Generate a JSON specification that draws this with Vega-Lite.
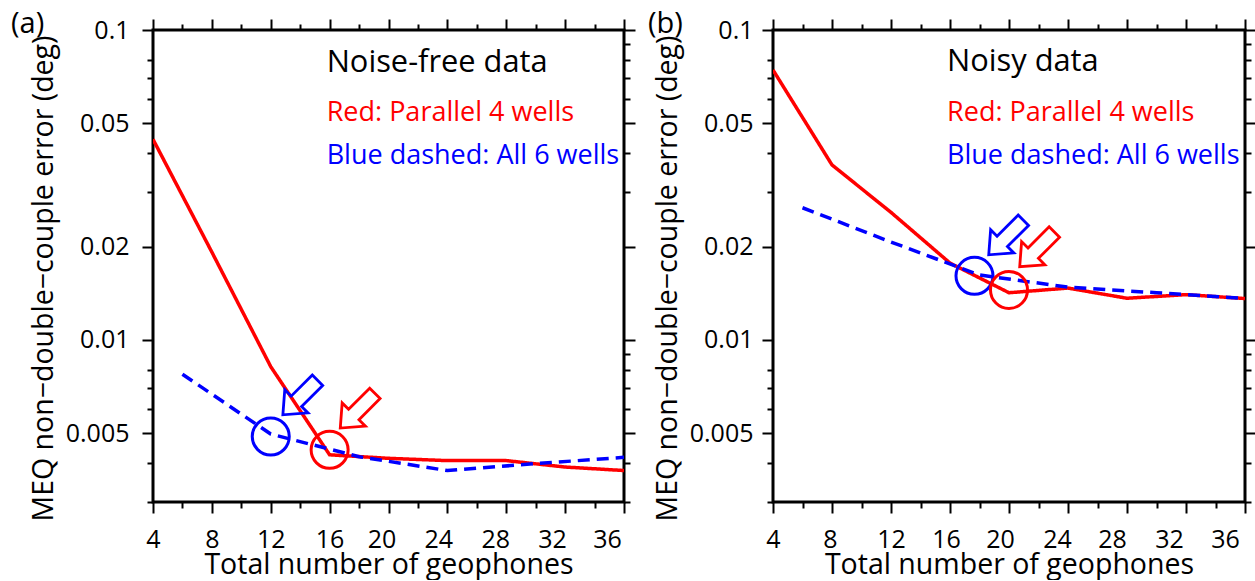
{
  "$schema": "https://vega.github.io/schema/vega-lite/v6.json",
  "padding": {"left": 9, "top": 8, "right": 0, "bottom": 0},
  "spacing": 8,
  "datasets": {
    "lines": [
      {"panel": "a", "series": "red", "x": 4, "y": 0.0444},
      {"panel": "a", "series": "red", "x": 8, "y": 0.0192},
      {"panel": "a", "series": "red", "x": 12, "y": 0.0082},
      {"panel": "a", "series": "red", "x": 16, "y": 0.00426},
      {"panel": "a", "series": "red", "x": 20, "y": 0.00415},
      {"panel": "a", "series": "red", "x": 24, "y": 0.00408},
      {"panel": "a", "series": "red", "x": 28, "y": 0.00408},
      {"panel": "a", "series": "red", "x": 32, "y": 0.00389},
      {"panel": "a", "series": "red", "x": 36, "y": 0.00379},
      {"panel": "a", "series": "blue", "x": 6, "y": 0.00775},
      {"panel": "a", "series": "blue", "x": 12, "y": 0.00497},
      {"panel": "a", "series": "blue", "x": 18, "y": 0.0042},
      {"panel": "a", "series": "blue", "x": 24, "y": 0.00379},
      {"panel": "a", "series": "blue", "x": 30, "y": 0.00399},
      {"panel": "a", "series": "blue", "x": 36, "y": 0.00418},
      {"panel": "b", "series": "red", "x": 4, "y": 0.0743},
      {"panel": "b", "series": "red", "x": 8, "y": 0.0367},
      {"panel": "b", "series": "red", "x": 12, "y": 0.0258},
      {"panel": "b", "series": "red", "x": 16, "y": 0.0177},
      {"panel": "b", "series": "red", "x": 20, "y": 0.0142},
      {"panel": "b", "series": "red", "x": 24, "y": 0.0147},
      {"panel": "b", "series": "red", "x": 28, "y": 0.01363},
      {"panel": "b", "series": "red", "x": 32, "y": 0.0140},
      {"panel": "b", "series": "red", "x": 36, "y": 0.0136},
      {"panel": "b", "series": "blue", "x": 6, "y": 0.0267},
      {"panel": "b", "series": "blue", "x": 12, "y": 0.0207},
      {"panel": "b", "series": "blue", "x": 18, "y": 0.0162},
      {"panel": "b", "series": "blue", "x": 24, "y": 0.0148},
      {"panel": "b", "series": "blue", "x": 30, "y": 0.0142},
      {"panel": "b", "series": "blue", "x": 36, "y": 0.0136}
    ],
    "circles": [
      {"panel": "a", "series": "blue", "x": 12, "y": 0.00488},
      {"panel": "a", "series": "red", "x": 16, "y": 0.00442},
      {"panel": "b", "series": "blue", "x": 17.66, "y": 0.0161},
      {"panel": "b", "series": "red", "x": 20, "y": 0.0145}
    ],
    "arrows": [
      {"panel": "a", "series": "blue", "x": 14.0, "y": 0.00652},
      {"panel": "a", "series": "red", "x": 17.9, "y": 0.00591},
      {"panel": "b", "series": "blue", "x": 19.8, "y": 0.0214},
      {"panel": "b", "series": "red", "x": 21.9, "y": 0.0196}
    ],
    "heads": [
      {"panel": "a", "series": "black", "x": 15.8, "y": 0.0732, "text": "Noise-free data"},
      {"panel": "b", "series": "black", "x": 15.8, "y": 0.0735, "text": "Noisy data"}
    ],
    "notes": [
      {"panel": "a", "series": "red", "x": 15.8, "y": 0.0510, "text": "Red: Parallel 4 wells"},
      {"panel": "a", "series": "blue", "x": 15.8, "y": 0.0369, "text": "Blue dashed: All 6 wells"},
      {"panel": "b", "series": "red", "x": 15.8, "y": 0.0510, "text": "Red: Parallel 4 wells"},
      {"panel": "b", "series": "blue", "x": 15.8, "y": 0.0369, "text": "Blue dashed: All 6 wells"}
    ]
  },
  "config": {
    "font": "Open Sans",
    "view": {"stroke": "black", "strokeWidth": 3},
    "axis": {
      "grid": false, "domain": false, "tickColor": "black", "tickWidth": 2,
      "labelColor": "black", "labelFont": "Open Sans", "labelFontSize": 25,
      "titleFont": "Open Sans", "titleFontWeight": "normal", "titleColor": "black",
      "labelOverlap": false, "labelFlush": false, "labelBound": false
    },
    "title": {"font": "Open Sans", "fontSize": 29, "fontWeight": "normal", "color": "black", "anchor": "start", "frame": "group"}
  },
  "hconcat": [
    {
      "width": 471, "height": 472,
      "title": {"text": "(a)", "dx": -142, "dy": 25},
      "resolve": {"axis": {"x": "independent", "y": "independent"}},
      "layer": [
        {
          "data": {"name": "lines"},
          "transform": [{"filter": "datum.panel === 'a'"}],
          "mark": {"type": "line", "strokeWidth": 3.5, "clip": true},
          "encoding": {
            "x": {"field": "x", "type": "quantitative", "scale": {"domain": [4, 36], "nice": false, "zero": false},
              "axis": {"orient": "bottom", "values": [4,6,8,10,12,14,16,18,20,22,24,26,28,30,32,34,36],
                "labelExpr": "datum.value % 4 === 0 ? datum.label : ''",
                "tickSize": {"condition": {"test": "datum.value % 4 === 0", "value": 11}, "value": 6},
                "labelOffset": {"condition": [
                  {"test": "datum.value === 20", "value": -7},
                  {"test": "datum.value === 24", "value": -9},
                  {"test": "datum.value === 28", "value": -11},
                  {"test": "datum.value === 32", "value": -13},
                  {"test": "datum.value === 36", "value": -17}], "value": 0},
                "labelPadding": 14, "title": "Total number of geophones", "titleFontSize": 28.5, "titlePadding": -2}},
            "y": {"field": "y", "type": "quantitative", "scale": {"type": "log", "domain": [0.003, 0.1], "nice": false},
              "axis": {"orient": "left", "values": [0.1,0.08,0.07,0.06,0.05,0.04,0.03,0.02,0.01,0.008,0.007,0.006,0.005,0.004,0.003],
                "labelExpr": "indexof([0.1,0.05,0.02,0.01,0.005], datum.value) >= 0 ? format(datum.value, '~g') : ''",
                "tickSize": {"condition": {"test": "indexof([0.1,0.05,0.02,0.01,0.005], datum.value) >= 0", "value": 11}, "value": 6},
                "labelPadding": 13, "title": "MEQ non\u2212double\u2212couple error (deg)", "titleFontSize": 28.5, "titlePadding": 7, "titleY": 248}},
            "color": {"field": "series", "type": "nominal", "scale": {"domain": ["red", "blue", "black"], "range": ["#ff0000", "#0000ff", "#000000"]}, "legend": null},
            "strokeDash": {"field": "series", "type": "nominal", "scale": {"domain": ["red", "blue"], "range": [[1, 0], [12, 7]]}, "legend": null}
          }
        },
        {
          "data": {"name": "circles"},
          "transform": [{"filter": "datum.panel === 'a'"}],
          "mark": {"type": "point", "shape": "circle", "filled": false, "size": 1370, "strokeWidth": 3, "opacity": 1},
          "encoding": {
            "x": {"field": "x", "type": "quantitative",
              "axis": {"orient": "top", "values": [4,6,8,10,12,14,16,18,20,22,24,26,28,30,32,34,36], "labels": false, "title": null,
                "tickSize": {"condition": {"test": "datum.value % 4 === 0", "value": 11}, "value": 6}}},
            "y": {"field": "y", "type": "quantitative",
              "axis": {"orient": "right", "values": [0.1,0.09,0.08,0.07,0.06,0.05,0.04,0.03,0.02,0.01,0.009,0.008,0.007,0.006,0.005,0.004,0.003], "labels": false, "title": null,
                "tickSize": {"condition": {"test": "indexof([0.1,0.05,0.02,0.01,0.005], datum.value) >= 0", "value": 11}, "value": 6}}},
            "color": {"field": "series", "type": "nominal", "legend": null}
          }
        },
        {
          "data": {"name": "arrows"},
          "transform": [{"filter": "datum.panel === 'a'"}],
          "mark": {"type": "point", "shape": "M -0.3 -1 L 0.3 -1 L 0.3 0.22 L 0.67 0.22 L 0 1 L -0.67 0.22 L -0.3 0.22 Z", "angle": 45, "filled": false, "size": 2400, "strokeWidth": 2.8, "opacity": 1},
          "encoding": {
            "x": {"field": "x", "type": "quantitative", "axis": null},
            "y": {"field": "y", "type": "quantitative", "axis": null},
            "color": {"field": "series", "type": "nominal", "legend": null}
          }
        },
        {
          "data": {"name": "heads"},
          "transform": [{"filter": "datum.panel === 'a'"}],
          "mark": {"type": "text", "align": "left", "baseline": "alphabetic", "fontSize": 30.8, "font": "Open Sans"},
          "encoding": {
            "x": {"field": "x", "type": "quantitative", "axis": null},
            "y": {"field": "y", "type": "quantitative", "axis": null},
            "text": {"field": "text"},
            "color": {"field": "series", "type": "nominal", "legend": null}
          }
        },
        {
          "data": {"name": "notes"},
          "transform": [{"filter": "datum.panel === 'a'"}],
          "mark": {"type": "text", "align": "left", "baseline": "alphabetic", "fontSize": 27, "font": "Open Sans"},
          "encoding": {
            "x": {"field": "x", "type": "quantitative", "axis": null},
            "y": {"field": "y", "type": "quantitative", "axis": null},
            "text": {"field": "text"},
            "color": {"field": "series", "type": "nominal", "legend": null}
          }
        }
      ]
    },
    {
      "width": 472, "height": 472,
      "title": {"text": "(b)", "dx": -125, "dy": 25},
      "resolve": {"axis": {"x": "independent", "y": "independent"}},
      "layer": [
        {
          "data": {"name": "lines"},
          "transform": [{"filter": "datum.panel === 'b'"}],
          "mark": {"type": "line", "strokeWidth": 3.5, "clip": true},
          "encoding": {
            "x": {"field": "x", "type": "quantitative", "scale": {"domain": [4, 36], "nice": false, "zero": false},
              "axis": {"orient": "bottom", "values": [4,6,8,10,12,14,16,18,20,22,24,26,28,30,32,34,36],
                "labelExpr": "datum.value % 4 === 0 ? datum.label : ''",
                "tickSize": {"condition": {"test": "datum.value % 4 === 0", "value": 11}, "value": 6},
                "labelOffset": {"condition": [
                  {"test": "datum.value === 8", "value": -2},
                  {"test": "datum.value === 16", "value": -4},
                  {"test": "datum.value === 20", "value": -9},
                  {"test": "datum.value === 24", "value": -11},
                  {"test": "datum.value === 28", "value": -15},
                  {"test": "datum.value === 32", "value": -17},
                  {"test": "datum.value === 36", "value": -20}], "value": 0},
                "labelPadding": 14, "title": "Total number of geophones", "titleFontSize": 28.5, "titlePadding": -2}},
            "y": {"field": "y", "type": "quantitative", "scale": {"type": "log", "domain": [0.003, 0.1], "nice": false},
              "axis": {"orient": "left", "values": [0.1,0.08,0.07,0.06,0.05,0.04,0.03,0.02,0.01,0.008,0.007,0.006,0.005,0.004,0.003],
                "labelExpr": "indexof([0.1,0.05,0.02,0.01,0.005], datum.value) >= 0 ? format(datum.value, '~g') : ''",
                "tickSize": {"condition": {"test": "indexof([0.1,0.05,0.02,0.01,0.005], datum.value) >= 0", "value": 11}, "value": 6},
                "labelPadding": 9, "title": "MEQ non\u2212double\u2212couple error (deg)", "titleFontSize": 28.5, "titlePadding": 7, "titleY": 248}},
            "color": {"field": "series", "type": "nominal", "scale": {"domain": ["red", "blue", "black"], "range": ["#ff0000", "#0000ff", "#000000"]}, "legend": null},
            "strokeDash": {"field": "series", "type": "nominal", "scale": {"domain": ["red", "blue"], "range": [[1, 0], [12, 7]]}, "legend": null}
          }
        },
        {
          "data": {"name": "circles"},
          "transform": [{"filter": "datum.panel === 'b'"}],
          "mark": {"type": "point", "shape": "circle", "filled": false, "size": 1370, "strokeWidth": 3, "opacity": 1},
          "encoding": {
            "x": {"field": "x", "type": "quantitative",
              "axis": {"orient": "top", "values": [4,6,8,10,12,14,16,18,20,22,24,26,28,30,32,34,36], "labels": false, "title": null,
                "tickSize": {"condition": {"test": "datum.value % 4 === 0", "value": 11}, "value": 6}}},
            "y": {"field": "y", "type": "quantitative",
              "axis": {"orient": "right", "values": [0.1,0.09,0.08,0.07,0.06,0.05,0.04,0.03,0.02,0.01,0.009,0.008,0.007,0.006,0.005,0.004,0.003], "labels": false, "title": null,
                "tickSize": {"condition": {"test": "indexof([0.1,0.05,0.02,0.01,0.005], datum.value) >= 0", "value": 11}, "value": 6}}},
            "color": {"field": "series", "type": "nominal", "legend": null}
          }
        },
        {
          "data": {"name": "arrows"},
          "transform": [{"filter": "datum.panel === 'b'"}],
          "mark": {"type": "point", "shape": "M -0.3 -1 L 0.3 -1 L 0.3 0.22 L 0.67 0.22 L 0 1 L -0.67 0.22 L -0.3 0.22 Z", "angle": 45, "filled": false, "size": 2400, "strokeWidth": 2.8, "opacity": 1},
          "encoding": {
            "x": {"field": "x", "type": "quantitative", "axis": null},
            "y": {"field": "y", "type": "quantitative", "axis": null},
            "color": {"field": "series", "type": "nominal", "legend": null}
          }
        },
        {
          "data": {"name": "heads"},
          "transform": [{"filter": "datum.panel === 'b'"}],
          "mark": {"type": "text", "align": "left", "baseline": "alphabetic", "fontSize": 30.8, "font": "Open Sans"},
          "encoding": {
            "x": {"field": "x", "type": "quantitative", "axis": null},
            "y": {"field": "y", "type": "quantitative", "axis": null},
            "text": {"field": "text"},
            "color": {"field": "series", "type": "nominal", "legend": null}
          }
        },
        {
          "data": {"name": "notes"},
          "transform": [{"filter": "datum.panel === 'b'"}],
          "mark": {"type": "text", "align": "left", "baseline": "alphabetic", "fontSize": 27, "font": "Open Sans"},
          "encoding": {
            "x": {"field": "x", "type": "quantitative", "axis": null},
            "y": {"field": "y", "type": "quantitative", "axis": null},
            "text": {"field": "text"},
            "color": {"field": "series", "type": "nominal", "legend": null}
          }
        }
      ]
    }
  ]
}
